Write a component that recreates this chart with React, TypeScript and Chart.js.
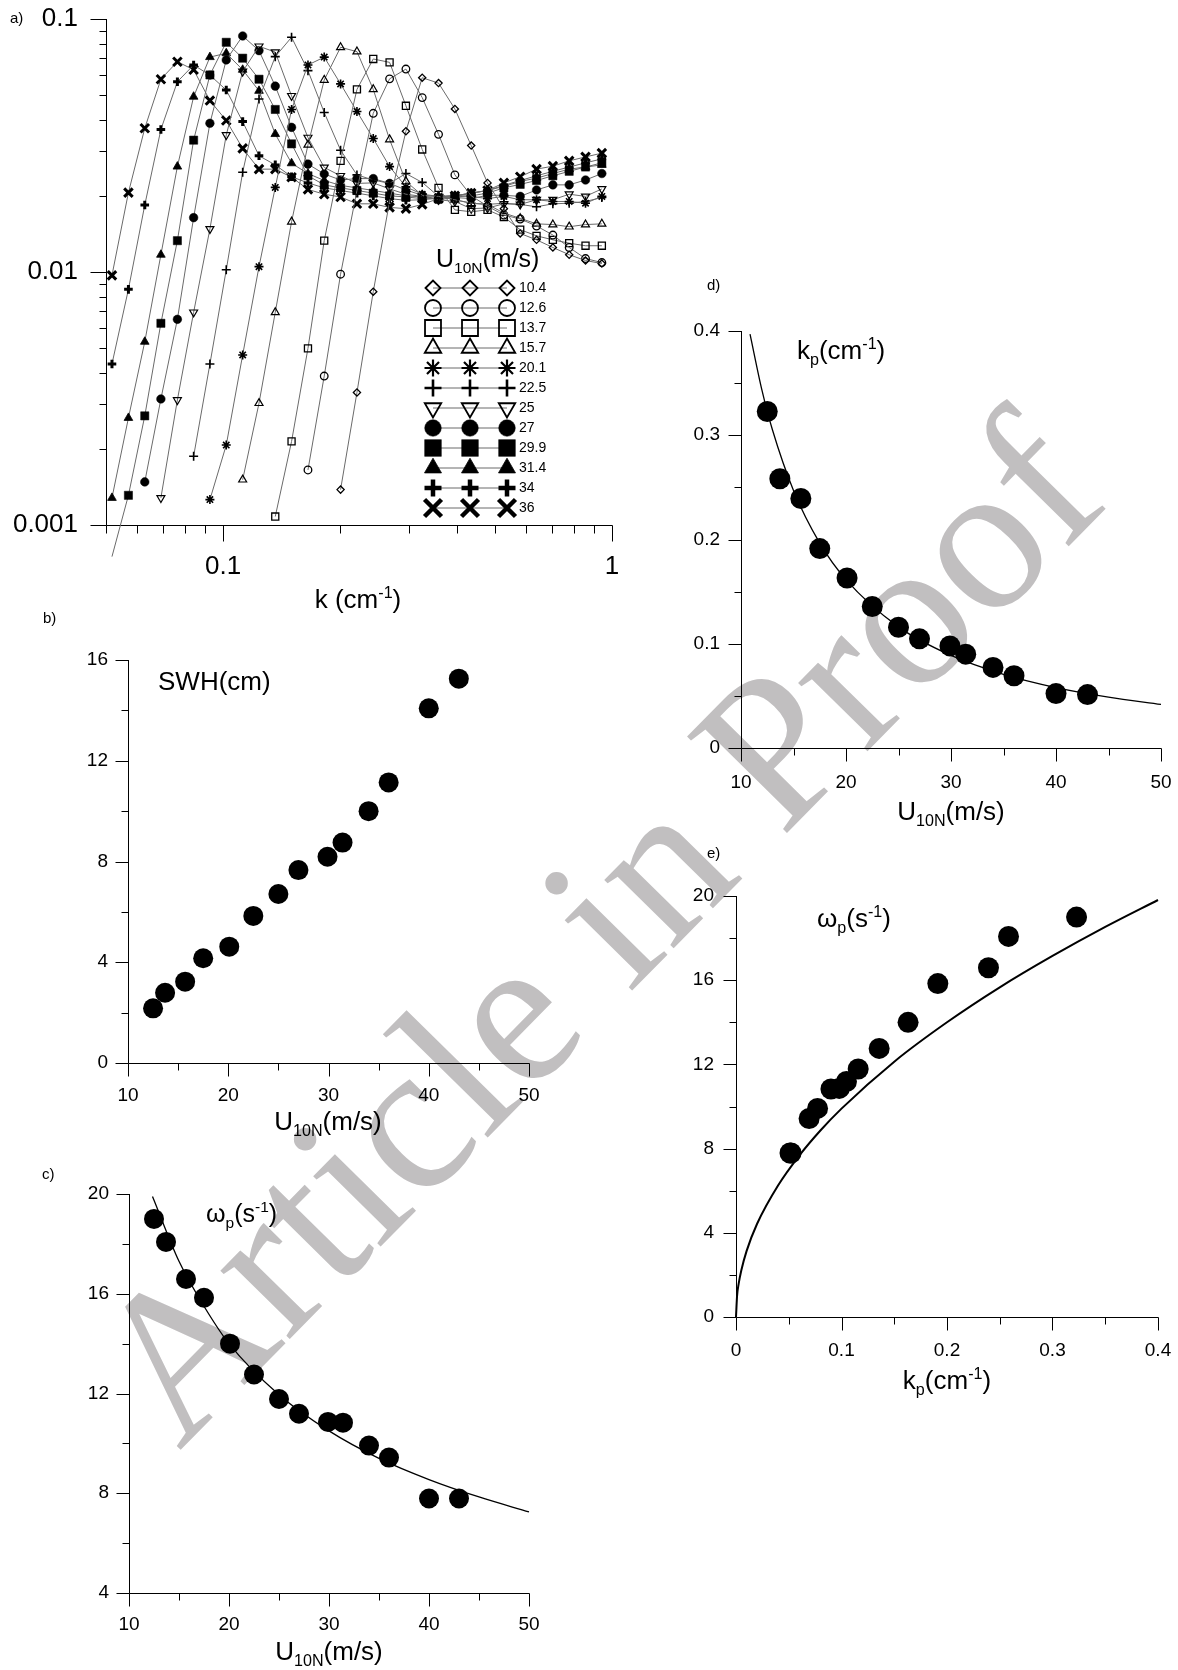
import React, { useEffect, useRef } from 'react';
import { Chart, registerables } from 'chart.js';
import { drawPoint } from 'chart.js/helpers';

Chart.register(...registerables);

const FONT = "'Liberation Sans', Arial, Helvetica, sans-serif";
const SERIF = "'Liberation Serif', 'DejaVu Serif', 'Times New Roman', serif";

/* ---------------- panel a : spectra ---------------- */
const kGrid = [0.0518, 0.0571, 0.0629, 0.0692, 0.0763, 0.084, 0.0925, 0.1019, 0.1123, 0.1237, 0.1362, 0.15, 0.1653, 0.182, 0.2005, 0.2209, 0.2433, 0.268, 0.2952, 0.3251, 0.3581, 0.3945, 0.4345, 0.4786, 0.5272, 0.5807, 0.6397, 0.7046, 0.7761, 0.8549, 0.9417];
const windLabels = ['10.4', '12.6', '13.7', '15.7', '20.1', '22.5', '25', '27', '29.9', '31.4', '34', '36'];
const N = null;
const s104 = [N, N, N, N, N, N, N, N, N, N, N, N, N, N, 0.00138, 0.00334, 0.00836, 0.019, 0.036, 0.0586, 0.0558, 0.0441, 0.0316, 0.0225, 0.0178, 0.0142, 0.0134, 0.0125, 0.0117, 0.0111, 0.0108];
const s126 = [N, N, N, N, N, N, N, N, N, N, N, N, 0.00165, 0.00388, 0.0098, 0.021, 0.0424, 0.058, 0.0634, 0.0489, 0.035, 0.0242, 0.02, 0.0182, 0.0168, 0.0162, 0.0152, 0.014, 0.0125, 0.0113, 0.0109];
const s137 = [N, N, N, N, N, N, N, N, N, N, 0.00108, 0.00214, 0.00499, 0.0133, 0.0275, 0.0527, 0.0695, 0.0674, 0.0454, 0.0305, 0.0215, 0.0176, 0.0173, 0.0176, 0.0165, 0.0147, 0.0139, 0.0134, 0.013, 0.0127, 0.0127];
const s157 = [N, N, N, N, N, N, N, N, 0.00151, 0.00303, 0.00693, 0.0158, 0.0318, 0.0574, 0.0773, 0.0743, 0.0527, 0.0334, 0.0228, 0.0201, 0.0199, 0.0193, 0.0187, 0.0185, 0.0171, 0.0163, 0.0155, 0.0154, 0.0151, 0.0154, 0.0155];
const s201 = [N, N, N, N, N, N, 0.00126, 0.00207, 0.0047, 0.0105, 0.0216, 0.0439, 0.0658, 0.0707, 0.0554, 0.0431, 0.0337, 0.0261, 0.0217, 0.0203, 0.0199, 0.0201, 0.0199, 0.0195, 0.0199, 0.0193, 0.0193, 0.019, 0.019, 0.0187, 0.0199];
const s225 = [N, N, N, N, N, 0.00187, 0.00433, 0.0102, 0.0248, 0.0483, 0.071, 0.0847, 0.0625, 0.0427, 0.0303, 0.0242, 0.0231, 0.0224, 0.0245, 0.0226, 0.0199, 0.0193, 0.0187, 0.0185, 0.0187, 0.0185, 0.0181, 0.0186, 0.0187, 0.019, 0.0197];
const s250 = [N, N, N, 0.00128, 0.00312, 0.00693, 0.0148, 0.0348, 0.062, 0.078, 0.074, 0.0497, 0.034, 0.0259, 0.024, 0.0224, 0.0225, 0.0213, 0.0203, 0.0199, 0.0193, 0.019, 0.0178, 0.0179, 0.0186, 0.0185, 0.0193, 0.0193, 0.0203, 0.0199, 0.0213];
const s270 = [N, N, 0.00148, 0.00315, 0.0065, 0.0164, 0.0387, 0.0689, 0.0857, 0.075, 0.0543, 0.0373, 0.0267, 0.0244, 0.0231, 0.0234, 0.0234, 0.0224, 0.0211, 0.0201, 0.0193, 0.0197, 0.0195, 0.0201, 0.0201, 0.0199, 0.0211, 0.0221, 0.0221, 0.0231, 0.0245];
const s299 = [0.00075, 0.00131, 0.0027, 0.00627, 0.0133, 0.0332, 0.0601, 0.0809, 0.07, 0.0578, 0.0439, 0.0321, 0.024, 0.0221, 0.0215, 0.021, 0.0205, 0.02, 0.0198, 0.0195, 0.0195, 0.0198, 0.02, 0.0205, 0.0215, 0.0222, 0.023, 0.024, 0.025, 0.026, 0.027];
const s314 = [0.00128, 0.00265, 0.0053, 0.0117, 0.0261, 0.0493, 0.0707, 0.0732, 0.063, 0.052, 0.0351, 0.0269, 0.0245, 0.023, 0.022, 0.0215, 0.021, 0.0205, 0.02, 0.0198, 0.0198, 0.02, 0.0205, 0.021, 0.0218, 0.0228, 0.0235, 0.0245, 0.0255, 0.026, 0.0265];
const s340 = [0.00433, 0.00854, 0.0184, 0.0366, 0.0565, 0.0658, 0.06, 0.0524, 0.0393, 0.0288, 0.0265, 0.0238, 0.0225, 0.0215, 0.021, 0.0205, 0.02, 0.0195, 0.0192, 0.0193, 0.0196, 0.02, 0.0205, 0.021, 0.022, 0.023, 0.024, 0.025, 0.026, 0.027, 0.028];
const s360 = [0.0097, 0.0206, 0.037, 0.0578, 0.0678, 0.063, 0.0476, 0.0397, 0.0308, 0.0255, 0.0255, 0.0237, 0.0212, 0.0203, 0.0198, 0.0186, 0.0186, 0.018, 0.0178, 0.0185, 0.0195, 0.02, 0.0205, 0.021, 0.0225, 0.0238, 0.0255, 0.0262, 0.0275, 0.0285, 0.0295];
const spectra = [s104, s126, s137, s157, s201, s225, s250, s270, s299, s314, s340, s360];
const aXTicks = [0.1, 1];
const aYTicks = [0.001, 0.01, 0.1];

/* ---------------- panels b-e ---------------- */
const U10N = [12.5, 13.7, 15.7, 17.5, 20.1, 22.5, 25, 27, 29.9, 31.4, 34, 36, 40, 43];
const swh = [2.17, 2.79, 3.23, 4.16, 4.62, 5.84, 6.71, 7.66, 8.19, 8.75, 10.0, 11.14, 14.08, 15.26];
const omegaP = [19.0, 18.08, 16.59, 15.84, 14.0, 12.76, 11.78, 11.19, 10.86, 10.83, 9.91, 9.43, 7.79, 7.79];
const kP = [0.3228, 0.2583, 0.2393, 0.1913, 0.1631, 0.1357, 0.1158, 0.1047, 0.0979, 0.09, 0.0773, 0.0693, 0.0522, 0.0512];
const omegaFitU = [12.35, 15, 17.5, 20, 25, 30, 35, 40, 45, 50];
const omegaFit = [19.9, 17.3, 15.5, 14.0, 11.95, 10.5, 9.4, 8.55, 7.85, 7.25];
const kpFitU = [10.86, 12, 13, 15, 17.5, 20, 25, 30, 35, 40, 45, 50];
const kpFit = [0.397, 0.343, 0.305, 0.247, 0.1965, 0.1615, 0.1162, 0.0888, 0.0707, 0.058, 0.0488, 0.0418];
const dispK = [0, 0.001, 0.0025, 0.005, 0.01, 0.02, 0.04, 0.06, 0.08, 0.1, 0.15, 0.2, 0.25, 0.3, 0.35, 0.4];
const dispOmega = [0, 0.99, 1.57, 2.21, 3.13, 4.43, 6.26, 7.67, 8.86, 9.9, 12.13, 14.0, 15.66, 17.15, 18.53, 19.81];

const uMajor = [10, 20, 30, 40, 50];
const uMinor = [15, 25, 35, 45];

/* ---------------- styles ---------------- */
type MStyle = { style: string; rot?: number; fill: boolean; r: number; lw: number; lr: number; llw: number };
const markerStyles: MStyle[] = [
  { style: 'rectRot', fill: false, r: 3.6, lw: 1.3, lr: 7.5, llw: 1.8 },
  { style: 'circle', fill: false, r: 3.8, lw: 1.3, lr: 8, llw: 1.8 },
  { style: 'rect', fill: false, r: 5, lw: 1.3, lr: 11.3, llw: 1.8 },
  { style: 'triangle', fill: false, r: 4.6, lw: 1.2, lr: 9.5, llw: 1.8 },
  { style: 'star', fill: false, r: 4.5, lw: 1.6, lr: 8.5, llw: 2.2 },
  { style: 'cross', fill: false, r: 4.5, lw: 1.6, lr: 8.5, llw: 2.6 },
  { style: 'triangle', rot: 180, fill: false, r: 4.6, lw: 1.2, lr: 9.5, llw: 1.8 },
  { style: 'circle', fill: true, r: 4.3, lw: 0.5, lr: 8.3, llw: 0.5 },
  { style: 'rect', fill: true, r: 5.8, lw: 0.5, lr: 11.8, llw: 0.5 },
  { style: 'triangle', fill: true, r: 5, lw: 0.8, lr: 9.8, llw: 0.8 },
  { style: 'cross', fill: false, r: 4.3, lw: 3, lr: 8.5, llw: 4.5 },
  { style: 'crossRot', fill: false, r: 6, lw: 3, lr: 12, llw: 4.5 },
];

type Rect = { x: number; y: number; w: number; h: number };
type Area = { l: number; t: number; r: number; b: number };
type Seg = [string, ('sub' | 'sup')?];
type TextItem = { x: number; y: number; size: number; segs: Seg[]; align?: 'left' | 'center' };
type TickSpec = { axis: 'x' | 'y'; major: number[]; minor: number[]; majorLen: number; minorLen: number };

function drawRich(ctx: CanvasRenderingContext2D, item: TextItem, rect: Rect) {
  const small = item.size * 0.62;
  const parts = item.segs.map(([t, m]) => {
    const size = m ? small : item.size;
    ctx.font = `${size}px ${FONT}`;
    return { t, m, size, w: ctx.measureText(t).width };
  });
  const total = parts.reduce((a, p) => a + p.w, 0);
  let x = (item.align === 'center' ? item.x - total / 2 : item.x) - rect.x;
  const y = item.y - rect.y;
  ctx.fillStyle = '#000';
  ctx.textAlign = 'left';
  ctx.textBaseline = 'alphabetic';
  for (const p of parts) {
    ctx.font = `${p.size}px ${FONT}`;
    const dy = p.m === 'sub' ? item.size * 0.24 : p.m === 'sup' ? -item.size * 0.4 : 0;
    ctx.fillText(p.t, x, y + dy);
    x += p.w;
  }
}

function decorPlugin(rect: Rect, ticks: TickSpec[], texts: TextItem[], extra?: (ctx: CanvasRenderingContext2D) => void) {
  return {
    id: 'decor',
    beforeDatasetsDraw(chart: any) {
      const { ctx, chartArea } = chart;
      const L = Math.round(chartArea.left) + 0.5;
      const B = Math.round(chartArea.bottom) + 0.5;
      ctx.save();
      ctx.strokeStyle = '#000';
      ctx.lineWidth = 1;
      ctx.beginPath();
      ctx.moveTo(L, Math.round(chartArea.top));
      ctx.lineTo(L, B);
      ctx.lineTo(Math.round(chartArea.right) + 0.5, B);
      ctx.stroke();
      ticks.forEach((t) => {
        const sc = chart.scales[t.axis];
        const one = (v: number, len: number) => {
          const p = Math.round(sc.getPixelForValue(v)) + 0.5;
          ctx.beginPath();
          if (t.axis === 'x') { ctx.moveTo(p, B); ctx.lineTo(p, B + len); }
          else { ctx.moveTo(L, p); ctx.lineTo(L - len, p); }
          ctx.stroke();
        };
        t.major.forEach((v) => one(v, t.majorLen));
        t.minor.forEach((v) => one(v, t.minorLen));
      });
      ctx.restore();
    },
    afterDraw(chart: any) {
      const ctx = chart.ctx;
      ctx.save();
      texts.forEach((it) => drawRich(ctx, it, rect));
      if (extra) extra(ctx);
      ctx.restore();
    },
  };
}

const fmt = (v: any) => {
  const n = Number(v);
  if (Math.abs(n) < 1e-9) return '0';
  return String(Math.round(n * 1000) / 1000);
};

function fixFit(axis: 'x' | 'y', rect: Rect, area: Area) {
  return (s: any) => {
    if (axis === 'x') s.height = rect.y + rect.h - area.b;
    else s.width = area.l - rect.x;
    s.paddingTop = 0;
    s.paddingBottom = 0;
    s.paddingLeft = 0;
    s.paddingRight = 0;
  };
}

function baseOptions(rect: Rect, area: Area, scales: any) {
  return {
    animation: false,
    responsive: false,
    devicePixelRatio: 1,
    events: [],
    layout: { padding: { left: 0, top: area.t - rect.y, right: rect.x + rect.w - area.r, bottom: 0 } },
    plugins: { legend: { display: false }, tooltip: { enabled: false }, title: { display: false } },
    scales,
  };
}

function linScale(axis: 'x' | 'y', rect: Rect, area: Area, min: number, max: number, step: number, padding: number, size = 19) {
  return {
    type: 'linear',
    min, max,
    ticks: { stepSize: step, callback: fmt, font: { size, family: FONT }, color: '#000', padding, autoSkip: false, maxRotation: 0 },
    grid: { display: false, drawTicks: false },
    border: { display: false },
    afterFit: fixFit(axis, rect, area),
  };
}

const U_TITLE: Seg[] = [['U'], ['10N', 'sub'], ['(m/s)']];
const OMEGA_LABEL: Seg[] = [['ω'], ['p', 'sub'], ['(s'], ['-1', 'sup'], [')']];
const KP_LABEL: Seg[] = [['k'], ['p', 'sub'], ['(cm'], ['-1', 'sup'], [')']];

/* ---------------- panel builders ---------------- */
function buildA(rect: Rect, area: Area) {
  const datasets = spectra.map((s, i) => {
    const st = markerStyles[i];
    return {
      label: windLabels[i],
      data: kGrid.map((k, j) => ({ x: k, y: s[j] })).filter((p) => p.y !== null),
      borderColor: '#6a6a6a',
      borderWidth: 1,
      tension: 0,
      clip: false,
      pointStyle: st.style,
      pointRotation: st.rot || 0,
      pointRadius: st.r,
      pointBackgroundColor: st.fill ? '#000' : 'rgba(0,0,0,0)',
      pointBorderColor: '#000',
      pointBorderWidth: st.lw,
    };
  });
  const ticks: TickSpec[] = [
    { axis: 'x', major: [0.1, 1], minor: [0.05, 0.06, 0.07, 0.08, 0.09, 0.2, 0.3, 0.4, 0.5, 0.6, 0.7, 0.8, 0.9], majorLen: 16, minorLen: 8 },
    { axis: 'y', major: [0.001, 0.01, 0.1], minor: [0.002, 0.003, 0.004, 0.005, 0.006, 0.007, 0.008, 0.009, 0.02, 0.03, 0.04, 0.05, 0.06, 0.07, 0.08, 0.09], majorLen: 16, minorLen: 7 },
  ];
  const texts: TextItem[] = [
    { x: 10, y: 23, size: 15, segs: [['a)']] },
    { x: 358, y: 608, size: 26, segs: [['k (cm'], ['-1', 'sup'], [')']], align: 'center' },
    { x: 436, y: 267, size: 25, segs: U_TITLE },
  ];
  const legend = (ctx: CanvasRenderingContext2D) => {
    markerStyles.forEach((st, i) => {
      const y = 288 + 20 * i - rect.y;
      ctx.strokeStyle = '#6a6a6a';
      ctx.lineWidth = 1;
      ctx.beginPath();
      ctx.moveTo(433 - rect.x, y);
      ctx.lineTo(507 - rect.x, y);
      ctx.stroke();
      [433, 470, 507].forEach((mx) => {
        ctx.fillStyle = st.fill ? '#000' : 'rgba(0,0,0,0)';
        ctx.strokeStyle = '#000';
        ctx.lineWidth = st.llw;
        drawPoint(ctx, { pointStyle: st.style, rotation: st.rot || 0, radius: st.lr, borderWidth: st.llw } as any, mx - rect.x, y);
      });
      ctx.fillStyle = '#000';
      ctx.font = `14px ${FONT}`;
      ctx.textAlign = 'left';
      ctx.textBaseline = 'middle';
      ctx.fillText(windLabels[i], 519 - rect.x, y + 0.5);
    });
  };
  const xScale = {
    type: 'logarithmic', min: 0.05, max: 1,
    afterBuildTicks: (s: any) => { s.ticks = aXTicks.map((value) => ({ value })); },
    ticks: { callback: (v: any) => String(v), font: { size: 26, family: FONT }, color: '#000', padding: 26, autoSkip: false, maxRotation: 0 },
    grid: { display: false, drawTicks: false },
    border: { display: false },
    afterFit: fixFit('x', rect, area),
  };
  const yScale = {
    type: 'logarithmic', min: 0.001, max: 0.1,
    afterBuildTicks: (s: any) => { s.ticks = aYTicks.map((value) => ({ value })); },
    ticks: { callback: (v: any) => String(v), font: { size: 26, family: FONT }, color: '#000', padding: 28, autoSkip: false },
    grid: { display: false, drawTicks: false },
    border: { display: false },
    afterFit: fixFit('y', rect, area),
  };
  return {
    type: 'line',
    data: { datasets },
    options: baseOptions(rect, area, { x: xScale, y: yScale }),
    plugins: [decorPlugin(rect, ticks, texts, legend)],
  };
}

function dots(xs: number[], ys: number[], r: number) {
  return {
    data: xs.map((x, i) => ({ x, y: ys[i] })),
    showLine: false,
    pointStyle: 'circle',
    pointRadius: r,
    pointBackgroundColor: '#000',
    pointBorderColor: '#000',
    pointBorderWidth: 0,
    clip: false,
    order: 0,
  };
}

function curve(xs: number[], ys: number[], w: number) {
  return {
    data: xs.map((x, i) => ({ x, y: ys[i] })),
    showLine: true,
    borderColor: '#000',
    borderWidth: w,
    pointRadius: 0,
    cubicInterpolationMode: 'monotone',
    clip: false,
    order: 1,
  };
}

function buildB(rect: Rect, area: Area) {
  return {
    type: 'line',
    data: { datasets: [dots(U10N, swh, 10)] },
    options: baseOptions(rect, area, {
      x: linScale('x', rect, area, 10, 50, 10, 21),
      y: linScale('y', rect, area, 0, 16, 4, 20),
    }),
    plugins: [decorPlugin(rect, [
      { axis: 'x', major: uMajor, minor: uMinor, majorLen: 13, minorLen: 7 },
      { axis: 'y', major: [0, 4, 8, 12, 16], minor: [2, 6, 10, 14], majorLen: 13, minorLen: 7 },
    ], [
      { x: 43, y: 623, size: 15, segs: [['b)']] },
      { x: 158, y: 690, size: 26, segs: [['SWH(cm)']] },
      { x: 328, y: 1130, size: 26, segs: U_TITLE, align: 'center' },
    ])],
  };
}

function buildC(rect: Rect, area: Area) {
  return {
    type: 'line',
    data: { datasets: [dots(U10N, omegaP, 10), curve(omegaFitU, omegaFit, 1.3)] },
    options: baseOptions(rect, area, {
      x: linScale('x', rect, area, 10, 50, 10, 20),
      y: linScale('y', rect, area, 4, 20, 4, 20),
    }),
    plugins: [decorPlugin(rect, [
      { axis: 'x', major: uMajor, minor: uMinor, majorLen: 13, minorLen: 7 },
      { axis: 'y', major: [4, 8, 12, 16, 20], minor: [6, 10, 14, 18], majorLen: 13, minorLen: 7 },
    ], [
      { x: 42, y: 1179, size: 15, segs: [['c)']] },
      { x: 206, y: 1222, size: 25, segs: OMEGA_LABEL },
      { x: 329, y: 1660, size: 26, segs: U_TITLE, align: 'center' },
    ])],
  };
}

function buildD(rect: Rect, area: Area) {
  return {
    type: 'line',
    data: { datasets: [dots(U10N, kP, 10.5), curve(kpFitU, kpFit, 1.3)] },
    options: baseOptions(rect, area, {
      x: linScale('x', rect, area, 10, 50, 10, 23),
      y: linScale('y', rect, area, 0, 0.4, 0.1, 21),
    }),
    plugins: [decorPlugin(rect, [
      { axis: 'x', major: uMajor, minor: uMinor, majorLen: 13, minorLen: 7 },
      { axis: 'y', major: [0, 0.1, 0.2, 0.3, 0.4], minor: [0.05, 0.15, 0.25, 0.35], majorLen: 13, minorLen: 7 },
    ], [
      { x: 707, y: 290, size: 15, segs: [['d)']] },
      { x: 797, y: 359, size: 26, segs: KP_LABEL },
      { x: 951, y: 820, size: 26, segs: U_TITLE, align: 'center' },
    ])],
  };
}

function buildE(rect: Rect, area: Area) {
  return {
    type: 'line',
    data: { datasets: [dots(kP, omegaP, 10.5), curve(dispK, dispOmega, 2)] },
    options: baseOptions(rect, area, {
      x: linScale('x', rect, area, 0, 0.4, 0.1, 22),
      y: linScale('y', rect, area, 0, 20, 4, 22),
    }),
    plugins: [decorPlugin(rect, [
      { axis: 'x', major: [0, 0.1, 0.2, 0.3, 0.4], minor: [0.05, 0.15, 0.25, 0.35], majorLen: 13, minorLen: 7 },
      { axis: 'y', major: [0, 4, 8, 12, 16, 20], minor: [2, 6, 10, 14, 18], majorLen: 13, minorLen: 7 },
    ], [
      { x: 707, y: 858, size: 15, segs: [['e)']] },
      { x: 817, y: 927, size: 26, segs: OMEGA_LABEL },
      { x: 947, y: 1389, size: 26, segs: KP_LABEL, align: 'center' },
    ])],
  };
}

type PanelSpec = { rect: Rect; area: Area; build: (r: Rect, a: Area) => any };

const PANELS: PanelSpec[] = [
  { rect: { x: 0, y: 0, w: 640, h: 625 }, area: { l: 106, t: 19, r: 612, b: 525 }, build: buildA },
  { rect: { x: 0, y: 600, w: 560, h: 545 }, area: { l: 128, t: 660, r: 529, b: 1063 }, build: buildB },
  { rect: { x: 0, y: 1145, w: 560, h: 525 }, area: { l: 129, t: 1194, r: 529, b: 1593 }, build: buildC },
  { rect: { x: 660, y: 262, w: 518, h: 578 }, area: { l: 741, t: 331, r: 1161, b: 748 }, build: buildD },
  { rect: { x: 660, y: 840, w: 518, h: 580 }, area: { l: 736, t: 896, r: 1158, b: 1317 }, build: buildE },
];

function Panel({ spec }: { spec: PanelSpec }) {
  const ref = useRef<HTMLCanvasElement>(null);
  useEffect(() => {
    const chart = new Chart(ref.current as HTMLCanvasElement, spec.build(spec.rect, spec.area));
    return () => chart.destroy();
  }, [spec]);
  const { x, y, w, h } = spec.rect;
  return (
    <canvas
      ref={ref}
      width={w}
      height={h}
      style={{ position: 'absolute', left: x, top: y, width: w, height: h, zIndex: 1 }}
    />
  );
}

export default function App() {
  Chart.defaults.color = '#000';
  Chart.defaults.font.family = FONT;
  return (
    <div style={{ position: 'absolute', left: 0, top: 0, width: 1178, height: 1670, overflow: 'hidden', background: '#fff' }}>
      <div
        style={{
          position: 'absolute',
          left: 595,
          top: 927,
          transform: 'translate(-50%, -50%) rotate(-45.5deg)',
          fontFamily: SERIF,
          fontSize: 212,
          lineHeight: 1,
          color: '#c1bfc0',
          whiteSpace: 'nowrap',
          zIndex: 0,
          userSelect: 'none',
        }}
      >
        Article in Proof
      </div>
      {PANELS.map((p, i) => (
        <Panel key={i} spec={p} />
      ))}
    </div>
  );
}
